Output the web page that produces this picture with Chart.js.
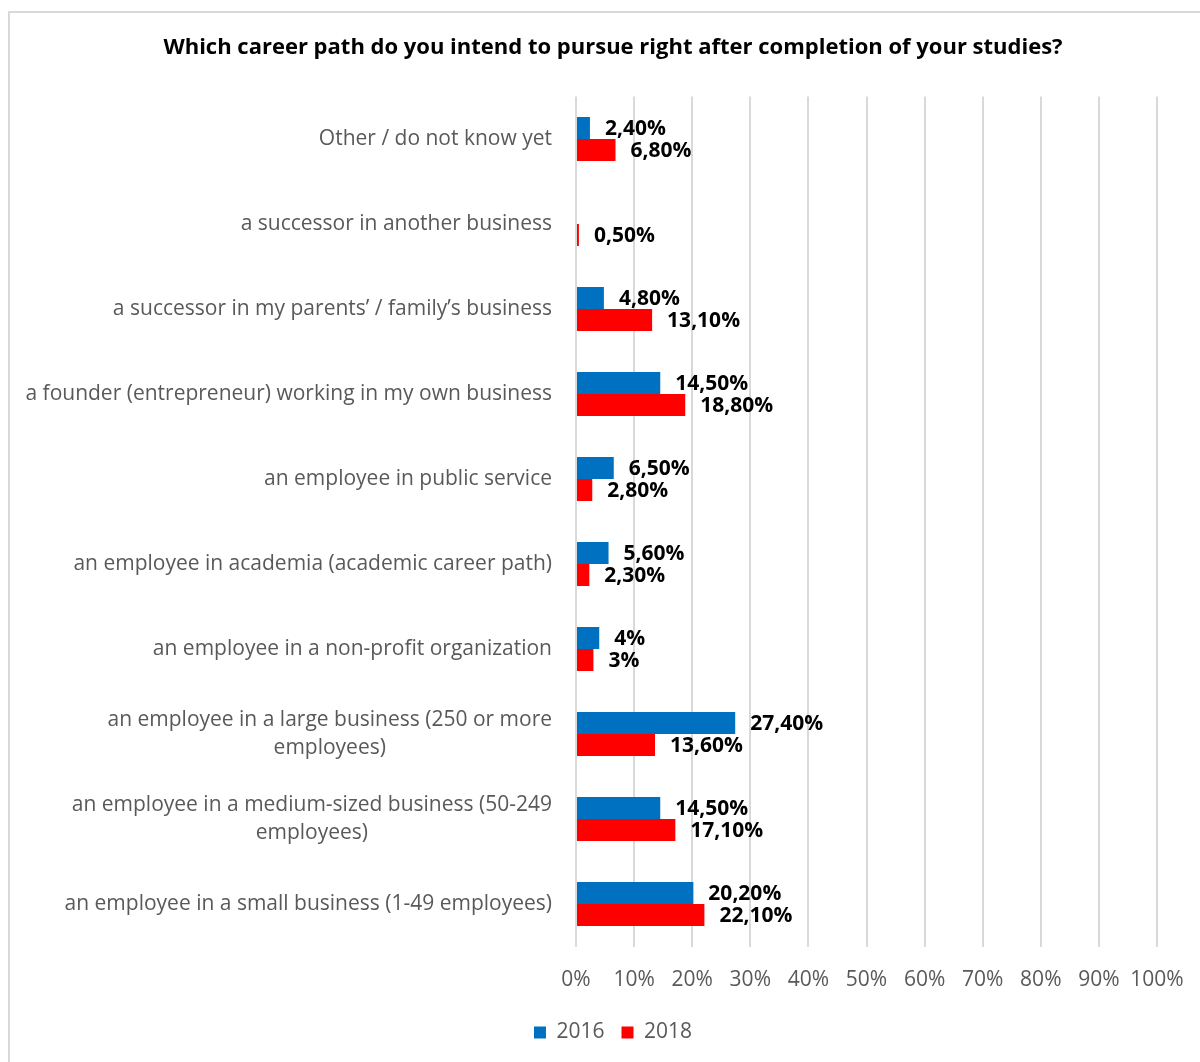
<!DOCTYPE html>
<html>
<head>
<meta charset="utf-8">
<script src="https://cdn.jsdelivr.net/npm/chart.js@4/dist/chart.umd.min.js"></script>
<style>
  html, body { margin: 0; padding: 0; background: #ffffff; }
  #wrap { position: relative; width: 1200px; height: 1062px; }
</style>
</head>
<body>
<div id="wrap"><canvas id="chart" width="1200" height="1062"></canvas></div>
<script>
// Survey answers, listed top to bottom as they appear on the axis
const categories = [
  ["Other / do not know yet"],
  ["a successor in another business"],
  ["a successor in my parents’ / family’s business"],
  ["a founder (entrepreneur) working in my own business"],
  ["an employee in public service"],
  ["an employee in academia (academic career path)"],
  ["an employee in a non-profit organization"],
  ["an employee in a large business (250 or more", "employees)"],
  ["an employee in a medium-sized business (50-249", "employees)"],
  ["an employee in a small business (1-49 employees)"]
];
const seriesNames = ["2016", "2018"];
const values2016 = [2.4, null, 4.8, 14.5, 6.5, 5.6, 4, 27.4, 14.5, 20.2];
const values2018 = [6.8, 0.5, 13.1, 18.8, 2.8, 2.3, 3, 13.6, 17.1, 22.1];
const xTicks = [0, 10, 20, 30, 40, 50, 60, 70, 80, 90, 100];

const BLUE = "#0070C0";
const RED = "#FF0000";
const GRID = "#D9D9D9";
const TEXT = "#595959";
const FONT = "'Open Sans', 'Noto Sans', sans-serif";
const LEFT_PAD = 69;

function pct(v) {
  if (Number.isInteger(v)) return v + "%";
  return v.toFixed(2).replace(".", ",") + "%";
}

// Outer frame around the whole chart
const framePlugin = {
  id: "frame",
  beforeDraw(chart) {
    const ctx = chart.ctx;
    ctx.save();
    ctx.fillStyle = "#ffffff";
    ctx.fillRect(0, 0, chart.width, chart.height);
    ctx.strokeStyle = GRID;
    ctx.lineWidth = 2;
    ctx.strokeRect(9, 12, 1200, 1060);
    ctx.restore();
  }
};

// Category names: right-aligned block, lines centred within the block
const categoryLabelPlugin = {
  id: "categoryLabels",
  afterDraw(chart) {
    const ctx = chart.ctx;
    const yScale = chart.scales.y;
    const right = chart.chartArea.left - 24;
    const lineH = 28;
    ctx.save();
    ctx.font = "21px " + FONT;
    ctx.fillStyle = TEXT;
    ctx.textBaseline = "middle";
    ctx.textAlign = "center";
    categories.forEach((lines, i) => {
      const cy = yScale.getPixelForValue(i);
      const widths = lines.map(l => ctx.measureText(l).width);
      const blockW = Math.max(...widths);
      const center = right - blockW / 2;
      const top = cy - (lines.length - 1) * lineH / 2;
      lines.forEach((l, k) => ctx.fillText(l, center, top + k * lineH));
    });
    ctx.restore();
  }
};

// Value labels to the right of each bar
const valueLabelPlugin = {
  id: "valueLabels",
  afterDatasetsDraw(chart) {
    const ctx = chart.ctx;
    ctx.save();
    ctx.font = "bold 21px " + FONT;
    ctx.fillStyle = "#000000";
    ctx.textAlign = "left";
    ctx.textBaseline = "middle";
    chart.data.datasets.forEach((ds, di) => {
      const meta = chart.getDatasetMeta(di);
      meta.data.forEach((bar, i) => {
        const v = ds.data[i];
        if (v === null || v === undefined) return;
        ctx.fillText(pct(v), bar.x + 15, bar.y + 1);
      });
    });
    ctx.restore();
  }
};

new Chart(document.getElementById("chart"), {
  type: "bar",
  data: {
    labels: categories.map(c => c.join(" ")),
    datasets: [
      { label: seriesNames[0], data: values2016, backgroundColor: BLUE },
      { label: seriesNames[1], data: values2018, backgroundColor: RED }
    ]
  },
  options: {
    indexAxis: "y",
    responsive: false,
    animation: false,
    devicePixelRatio: 1,
    layout: { padding: { top: 0, right: 43, bottom: 9, left: LEFT_PAD } },
    datasets: {
      bar: { categoryPercentage: 0.517, barPercentage: 1.0, borderWidth: 0 }
    },
    scales: {
      x: {
        min: 0,
        max: 100,
        afterBuildTicks(scale) { scale.ticks = xTicks.map(v => ({ value: v })); },
        afterFit(scale) {
          scale.height = 58.5;
          scale.paddingLeft = 0;
          scale.paddingRight = 0;
        },
        grid: { color: GRID, lineWidth: 2, drawTicks: false },
        border: { display: false },
        ticks: {
          padding: 21,
          maxRotation: 0,
          minRotation: 0,
          autoSkip: false,
          color: TEXT,
          font: { family: FONT, size: 21 },
          callback: v => v + "%"
        }
      },
      y: {
        afterFit(scale) { scale.width = 576 - LEFT_PAD; },
        grid: { display: false },
        border: { display: false },
        ticks: { display: false }
      }
    },
    plugins: {
      title: {
        display: true,
        text: "Which career path do you intend to pursue right after completion of your studies?",
        color: "#000000",
        font: { family: FONT, size: 22, weight: "bold", lineHeight: 1.2 },
        padding: { top: 35, bottom: 35.1 }
      },
      legend: {
        display: true,
        position: "bottom",
        labels: {
          color: TEXT,
          font: { family: FONT, size: 21 },
          boxWidth: 12,
          boxHeight: 12,
          padding: 17,
          useBorderRadius: false
        }
      },
      tooltip: { enabled: false }
    }
  },
  plugins: [framePlugin, categoryLabelPlugin, valueLabelPlugin]
});
</script>
</body>
</html>
